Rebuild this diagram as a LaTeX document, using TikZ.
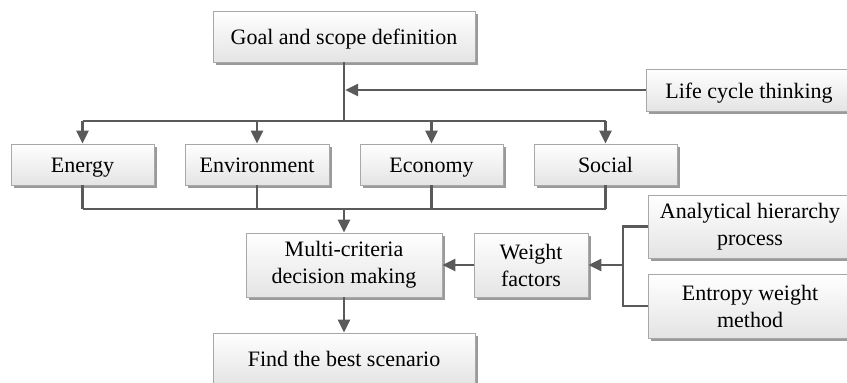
\documentclass[tikz,border=0pt]{standalone}
\usepackage{fontspec}
\setmainfont{Liberation Serif}
\usetikzlibrary{arrows.meta,shadows}
\definecolor{linkgray}{HTML}{5A5A5A}
\definecolor{boxline}{HTML}{A8A8A8}
\definecolor{boxbottom}{HTML}{E4E4E4}
\definecolor{shadowgray}{HTML}{9A9A9A}
\tikzset{
  box/.style={draw=boxline, line width=0.8pt, top color=white, bottom color=boxbottom,
    drop shadow={shadow xshift=2.5pt, shadow yshift=-2.5pt, fill=shadowgray, opacity=1},
    align=center, inner sep=0pt, font=\fontsize{22}{27}\selectfont, text=black},
  oneline/.style={text height=18pt, text depth=2pt},
  link/.style={linkgray, line width=2.4pt},
  arrow/.style={link, -{Triangle[length=13pt,width=12pt]}}
}

\begin{document}
\begin{tikzpicture}[x=1pt,y=-1pt]
\clip (0,0) rectangle (847,383);
% Boxes, placed at the pixel positions of the figure
\node[box, oneline, minimum width=262pt, minimum height=51pt] (goal) at (344,36.5) {Goal and scope definition};
\node[box, oneline, minimum width=206pt, minimum height=42pt] (life) at (749,90) {Life cycle thinking};
\node[box, oneline, minimum width=143pt, minimum height=41pt] (energy) at (82.5,164.5) {Energy};
\node[box, oneline, minimum width=144pt, minimum height=41pt] (environment) at (257,164.5) {Environment};
\node[box, oneline, minimum width=143pt, minimum height=41pt] (economy) at (431.5,164.5) {Economy};
\node[box, oneline, minimum width=143pt, minimum height=41pt] (social) at (605.5,164.5) {Social};
\node[box, minimum width=196pt, minimum height=64pt] (multi) at (344,265) {Multi-criteria\\decision making};
\node[box, minimum width=114pt, minimum height=64pt] (weight) at (531,265) {Weight\\factors};
\node[box, minimum width=204pt, minimum height=63pt] (ahp) at (750,226.5) {Analytical hierarchy\\process};
\node[box, minimum width=204pt, minimum height=64pt] (ewm) at (750,306) {Entropy weight\\method};
\node[box, oneline, minimum width=262pt, minimum height=51pt] (find) at (344,358.5) {Find the best scenario};
% Junction points of the connectors
\coordinate (split) at (344,121);
\coordinate (join) at (344,209);
\coordinate (fork) at (623,265);
% Top part: goal to the four indicators
\draw[link] (goal.south) -- (split);
\draw[arrow] (life.west) -- ([xshift=1.2pt]goal.south |- life.west);
\draw[link] (energy.north |- split) -- (social.north |- split);
\foreach \n in {energy,environment,economy,social}
  \draw[arrow] (\n.north |- split) -- (\n.north);
% Lower part: indicators to decision making
\foreach \n in {energy,environment,economy,social}
  \draw[link] (\n.south) -- (\n.south |- join);
\draw[link] (energy.south |- join) -- (social.south |- join);
\draw[arrow] (join) -- (multi.north);
\draw[arrow] (multi.south) -- (find.north);
\draw[arrow] (weight.west) -- (multi.east);
\draw[link] (ahp.west) -| (fork) |- (ewm.west);
\draw[arrow] (fork) -- (weight.east);
\end{tikzpicture}
\end{document}
